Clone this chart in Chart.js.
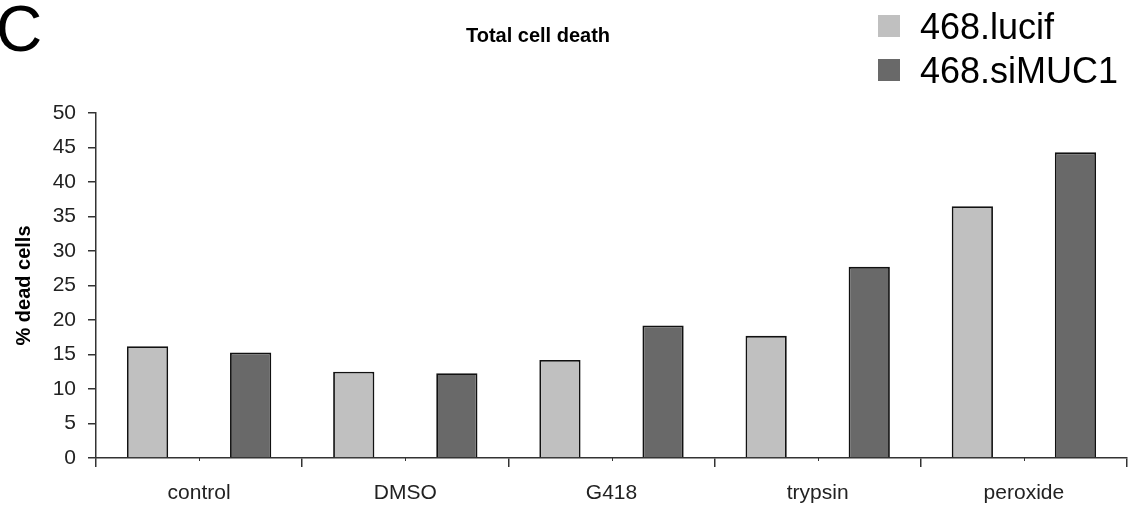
<!DOCTYPE html>
<html>
<head>
<meta charset="utf-8">
<script src="https://cdn.jsdelivr.net/npm/chart.js@4.4.1/dist/chart.umd.min.js"></script>
<style>
    body { margin: 0; background: #fff; }
    #wrap { width: 1129px; height: 508px; }
</style>
</head>
<body>
<div id="wrap"><canvas id="chart" width="1129" height="508"></canvas></div>
<script>
const categories = ["control", "DMSO", "G418", "trypsin", "peroxide"];
const lucifValues = [16.2, 12.5, 14.2, 17.7, 36.5];
const simuc1Values = [15.3, 12.3, 19.2, 27.7, 44.3];
const seriesNames = ["468.lucif", "468.siMUC1"];
const seriesColors = ["#c0c0c0", "#696969"];
const yTicks = [0, 5, 10, 15, 20, 25, 30, 35, 40, 45, 50];

const FONT = "'Liberation Sans', Arial, sans-serif";

// panel letter, title and legend drawn on top of the chart
const decorations = {
    id: "decorations",
    afterDraw(chart) {
        const ctx = chart.ctx;
        ctx.save();
        ctx.fillStyle = "#000";
        ctx.textBaseline = "alphabetic";
        ctx.textAlign = "left";

        ctx.font = "64px " + FONT;
        ctx.fillText("C", -4, 51);

        ctx.font = "bold 20px " + FONT;
        ctx.textAlign = "center";
        ctx.fillText("Total cell death", 538, 42);

        ctx.textAlign = "left";
        ctx.font = "36px " + FONT;
        const rows = [26, 70];
        seriesNames.forEach((name, i) => {
            ctx.fillStyle = seriesColors[i];
            ctx.fillRect(878, rows[i] - 11, 22, 22);
            ctx.fillStyle = "#000";
            ctx.fillText(name, 920, rows[i] + 13);
        });

        // small ticks at the category centres
        const x = chart.scales.x;
        ctx.strokeStyle = "#333";
        ctx.lineWidth = 1;
        categories.forEach((c, i) => {
            const px = Math.round(x.getPixelForValue(i)) + 0.5;
            ctx.beginPath();
            ctx.moveTo(px, x.top);
            ctx.lineTo(px, x.top + 3);
            ctx.stroke();
        });
        ctx.restore();
    }
};

new Chart(document.getElementById("chart"), {
    type: "bar",
    data: {
        labels: categories,
        datasets: [
            {
                label: seriesNames[0],
                data: lucifValues,
                backgroundColor: seriesColors[0],
                borderColor: "#111",
                borderWidth: 1.8
            },
            {
                label: seriesNames[1],
                data: simuc1Values,
                backgroundColor: seriesColors[1],
                borderColor: "#111",
                borderWidth: 1.8
            }
        ]
    },
    options: {
        responsive: false,
        animation: false,
        categoryPercentage: 1.0,
        barPercentage: 0.4,
        layout: { padding: { top: 113, right: 2, left: 0, bottom: 0 } },
        plugins: {
            legend: { display: false },
            tooltip: { enabled: false }
        },
        scales: {
            x: {
                afterFit: (scale) => { scale.height = 50; },
                grid: {
                    offset: true,
                    drawOnChartArea: false,
                    drawTicks: true,
                    tickLength: 9,
                    color: "#333",
                    lineWidth: 1.5
                },
                border: { color: "#333", width: 1.5 },
                ticks: {
                    color: "#222",
                    padding: 14,
                    font: { family: FONT, size: 21 }
                }
            },
            y: {
                min: 0,
                max: 50,
                afterFit: (scale) => { scale.width = 96; },
                afterBuildTicks: (scale) => { scale.ticks = yTicks.map(v => ({ value: v })); },
                grid: {
                    drawOnChartArea: false,
                    drawTicks: true,
                    tickLength: 8,
                    color: "#333",
                    lineWidth: 1.5
                },
                border: { color: "#333", width: 1.5 },
                ticks: {
                    color: "#222",
                    padding: 12,
                    font: { family: FONT, size: 21 }
                },
                title: {
                    display: true,
                    text: "% dead cells",
                    color: "#000",
                    padding: { top: 12, bottom: 0 },
                    font: { family: FONT, size: 20, weight: "bold" }
                }
            }
        }
    },
    plugins: [decorations]
});
</script>
</body>
</html>
